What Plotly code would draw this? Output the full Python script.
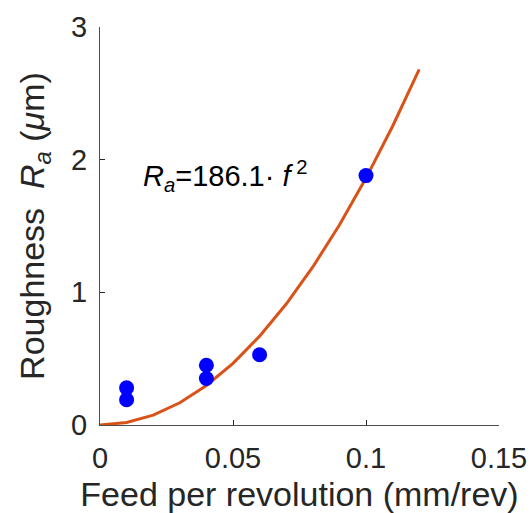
import plotly.graph_objects as go

# Measured roughness vs. feed per revolution
feed = [0.01, 0.01, 0.04, 0.04, 0.06, 0.10]
roughness = [0.28, 0.19, 0.45, 0.35, 0.53, 1.88]

# Fitted model Ra = k * f^2
k_fit = 186.1
feed_fit = [0.0, 0.01, 0.02, 0.03, 0.04, 0.05, 0.06, 0.07, 0.08, 0.09, 0.10, 0.11, 0.12]
ra_fit = [k_fit * f ** 2 for f in feed_fit]

x_ticks = [0, 0.05, 0.1, 0.15]
x_tick_text = ["0", "0.05", "0.1", "0.15"]
y_ticks = [0, 1, 2, 3]
y_tick_text = ["0", "1", "2", "3"]

FONT = "Liberation Sans, Arial, Helvetica, sans-serif"
TXT = "#262626"

fig = go.Figure()
fig.add_trace(go.Scatter(
    x=feed_fit, y=ra_fit, mode="lines",
    line=dict(color="#D95319", width=3),
    showlegend=False, hoverinfo="skip",
))
fig.add_trace(go.Scatter(
    x=feed, y=roughness, mode="markers",
    marker=dict(color="#0000FF", size=15, line=dict(width=0)),
    showlegend=False,
))

fig.add_annotation(
    x=0.0155, y=1.88, xref="x", yref="y",
    text="<i>R</i><sub><i>a</i></sub>=%.1f· <i>f</i><sup> 2</sup>" % k_fit,
    showarrow=False, xanchor="left", yanchor="middle",
    font=dict(family=FONT, size=29, color="#000000"),
)

axis_common = dict(
    showgrid=False, zeroline=False, showline=True,
    linecolor="#4d4d4d", linewidth=1,
    ticks="inside", ticklen=5, tickwidth=1, tickcolor=TXT,
    tickfont=dict(family=FONT, size=29, color=TXT),
    mirror=False, automargin=False,
)

fig.update_xaxes(
    range=[0, 0.15], tickvals=x_ticks, ticktext=x_tick_text,
    title=dict(text="Feed per revolution (mm/rev)", standoff=12,
               font=dict(family=FONT, size=34, color=TXT)),
    ticklabelstandoff=7,
    **axis_common,
)
fig.update_yaxes(
    range=[0, 3], tickvals=y_ticks, ticktext=y_tick_text,
    title=dict(text="Roughness  <i>R</i><sub><i>a</i></sub> (<i>μ</i>m)", standoff=16,
               font=dict(family=FONT, size=34, color=TXT)),
    ticklabelstandoff=6,
    **axis_common,
)

fig.update_layout(
    width=531, height=513,
    margin=dict(l=100, r=32, t=27, b=88),
    paper_bgcolor="white", plot_bgcolor="white",
    font=dict(family=FONT, color=TXT),
)

fig.write_html("out.html")
